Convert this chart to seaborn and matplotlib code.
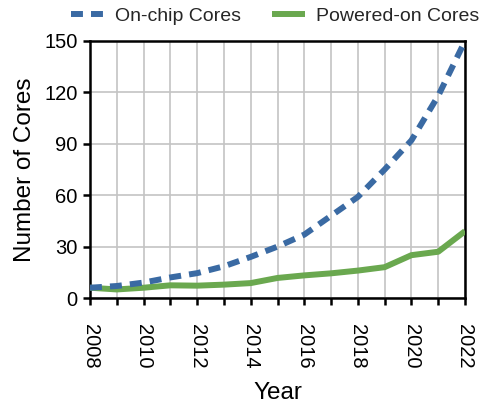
import matplotlib
matplotlib.use("Agg")
import matplotlib.pyplot as plt
import seaborn as sns
import pandas as pd

years = list(range(2008, 2023))
on_chip = [6, 7, 9, 12, 14.5, 18.5, 24, 30, 37, 48, 59, 75, 92, 118, 150]
powered_on = [6, 5, 6, 7.4, 7.2, 7.8, 8.7, 11.7, 13.2, 14.4, 16, 18, 25, 27, 39]
series_names = ["On-chip Cores", "Powered-on Cores"]
y_ticks = [0, 30, 60, 90, 120, 150]
x_label_years = list(range(2008, 2023, 2))

sns.set_theme(style="white")
plt.rcParams['font.family'] = ['Liberation Sans', 'DejaVu Sans']

df = pd.DataFrame({
    "Year": years * 2,
    "Cores": on_chip + powered_on,
    "Series": [series_names[0]] * len(years) + [series_names[1]] * len(years),
})

colors = {"On-chip Cores": "#3a6aa3", "Powered-on Cores": "#6aa84f"}

fig = plt.figure(figsize=(4.85, 4.07), dpi=100)
ax = fig.add_axes([90/485, (407-298)/407, (465-90)/485, (298-41)/407])

sns.lineplot(data=df, x="Year", y="Cores", hue="Series", style="Series",
             dashes={"On-chip Cores": (2, 1.35), "Powered-on Cores": ""},
             palette=colors, linewidth=4.3, ax=ax, legend=False)

lines = ax.get_lines()
for ln in lines:
    ln.set_dash_capstyle("butt")
    ln.set_solid_capstyle("butt")
lines[0].set_zorder(4)
lines[1].set_zorder(3)

ax.set_xlim(2008, 2022)
ax.set_ylim(0, 150)
ax.set_yticks(y_ticks)
ax.set_xticks(years, minor=False)
ax.set_xticklabels([str(y) if y in x_label_years else "" for y in years], rotation=-90)
ax.grid(True, color="#c4c4c4", linewidth=1.2)
ax.set_axisbelow(True)
for s in ax.spines.values():
    s.set_color("black")
    s.set_linewidth(1.8)
ax.tick_params(axis="both", which="major", direction="out", length=5, width=1.8,
               color="black", labelsize=14.5, pad=4, labelcolor="black",
               bottom=True, left=True)
ax.tick_params(axis="x", pad=14)
ax.set_xlabel("Year", fontsize=17.5, color="black", labelpad=9)
ax.set_ylabel("Number of Cores", fontsize=17.5, color="black", labelpad=6)

from matplotlib.lines import Line2D
handles = [
    Line2D([0], [0], color=colors["On-chip Cores"], lw=4.3, dashes=(2, 1.35), dash_capstyle="butt"),
    Line2D([0], [0], color=colors["Powered-on Cores"], lw=4.3, solid_capstyle="butt"),
]
fig.legend(handles, series_names, loc="upper center", bbox_to_anchor=(0.567, 1.025),
           ncol=2, frameon=False, fontsize=14, handlelength=1.7, columnspacing=1.6,
           handletextpad=0.55)

fig.savefig("out.png", dpi=100)
